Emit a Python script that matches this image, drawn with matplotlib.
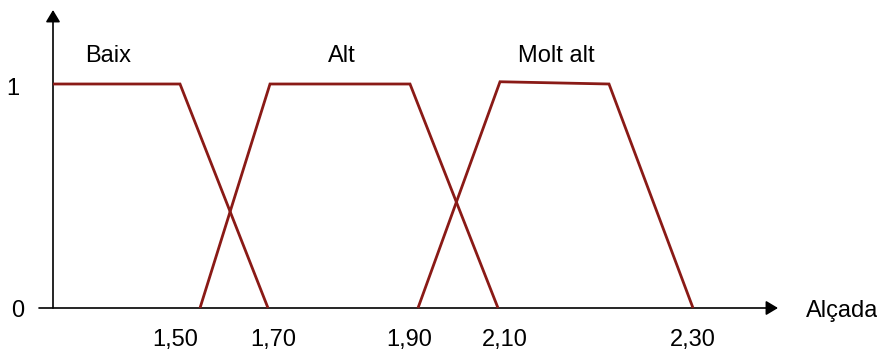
import matplotlib
matplotlib.use("Agg")
import matplotlib.pyplot as plt

plt.rcParams['font.family'] = ['Liberation Sans', 'DejaVu Sans']

# Membership functions (x in drawing units along the height axis, y = membership)
baix_x = [53, 180, 268]
baix_y = [1, 1, 0]
alt_x = [200, 270, 410, 498]
alt_y = [0, 1, 1, 0]
molt_x = [418, 500, 609, 693]
molt_y = [0, 1.01, 1, 0]

set_labels = ["Baix", "Alt", "Molt alt"]
set_label_x = [108, 342, 556]

tick_pos = [175, 273, 409, 505, 693]
tick_labels = ["1,50", "1,70", "1,90", "2,10", "2,30"]

W, H = 878, 351
fig = plt.figure(figsize=(W / 100, H / 100), dpi=100)
ax = fig.add_axes([0, 0, 1, 1])
ax.set_xlim(0, W)
# y: membership 0 at pixel row 308, 1 at pixel row 84
ax.set_ylim(-(H - 308) / 224, 308 / 224)
ax.axis('off')

red = '#8a1a16'
lw = 2.0
for xs, ys in [(baix_x, baix_y), (alt_x, alt_y), (molt_x, molt_y)]:
    ax.plot(xs, ys, color=red, lw=lw, solid_joinstyle='miter', solid_capstyle='butt', zorder=3)

arrow = dict(arrowstyle='-|>,head_length=0.4,head_width=0.24', lw=1.2, color='black',
             mutation_scale=18, shrinkA=0, shrinkB=0)
ax.annotate('', xy=(778, 0), xytext=(39, 0), arrowprops=arrow, zorder=2)
ax.annotate('', xy=(53, (308 - 10) / 224), xytext=(53, 0), arrowprops=arrow, zorder=2)

fs = 17
for lab, x in zip(set_labels, set_label_x):
    ax.text(x, (308 - 62) / 224, lab, ha='center', va='baseline', fontsize=fs)

ax.text(13, (308 - 95) / 224, "1", ha='center', va='baseline', fontsize=fs)
ax.text(18, (308 - 317) / 224, "0", ha='center', va='baseline', fontsize=fs)
for x, lab in zip(tick_pos, tick_labels):
    ax.text(x, (308 - 346) / 224, lab, ha='center', va='baseline', fontsize=fs)
ax.text(806, (308 - 317) / 224, "Alçada", ha='left', va='baseline', fontsize=fs)

fig.savefig("out.png", dpi=100)
